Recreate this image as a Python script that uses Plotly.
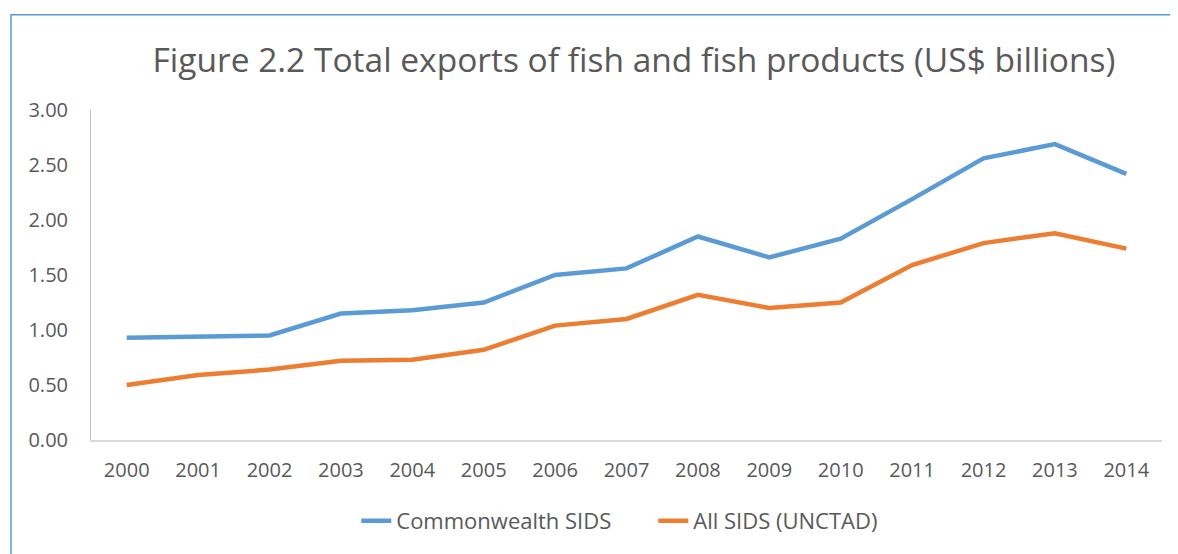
import plotly.graph_objects as go

years = ["2000", "2001", "2002", "2003", "2004", "2005", "2006", "2007",
         "2008", "2009", "2010", "2011", "2012", "2013", "2014"]
commonwealth_sids = [0.93, 0.94, 0.95, 1.15, 1.18, 1.25, 1.50, 1.56,
                     1.85, 1.66, 1.83, 2.19, 2.56, 2.69, 2.42]
all_sids_unctad = [0.50, 0.59, 0.64, 0.72, 0.73, 0.82, 1.04, 1.10,
                   1.32, 1.20, 1.25, 1.59, 1.79, 1.88, 1.74]

FONT = "'Open Sans', sans-serif"
GREY = "#595959"

fig = go.Figure()
fig.add_trace(go.Scatter(x=years, y=commonwealth_sids, mode="lines",
                         name="Commonwealth SIDS",
                         line=dict(color="#5B9BD5", width=4.5)))
fig.add_trace(go.Scatter(x=years, y=all_sids_unctad, mode="lines",
                         name="All SIDS (UNCTAD)",
                         line=dict(color="#ED7D31", width=4.5)))

fig.update_layout(
    width=1170, height=546,
    margin=dict(l=83, r=16, t=102, b=112),
    paper_bgcolor="white", plot_bgcolor="white",
    font=dict(family=FONT, color=GREY, size=20),
    title=dict(text="Figure 2.2 Total exports of fish and fish products (US$ billions)",
               x=0.535, xanchor="center", y=0.905, yanchor="middle",
               font=dict(family=FONT, size=33.5, color=GREY)),
    showlegend=True,
    legend=dict(orientation="h", x=0.525, xanchor="center", y=-0.245, yanchor="middle",
                font=dict(size=22, color=GREY), traceorder="normal",
                entrywidth=252, entrywidthmode="pixels"),
    xaxis=dict(showgrid=False, showline=True, linecolor="#d9d9d9", linewidth=1.5,
               ticks="", tickfont=dict(size=20, color=GREY), ticklabelstandoff=11,
               range=[-0.5, 14.5]),
    yaxis=dict(range=[0, 3.0], dtick=0.5, tickformat=".2f", showgrid=False,
               showline=True, linecolor="#bfbfbf", linewidth=1, zeroline=False,
               ticks="", tickfont=dict(size=20, color=GREY), ticklabelstandoff=18),
    shapes=[dict(type="rect", xref="paper", yref="paper",
                 x0=-0.0747, x1=1.2, y0=-1.0, y1=1.289,
                 line=dict(color="#5B9BD5", width=1.5), fillcolor="rgba(0,0,0,0)",
                 layer="below")],
)

fig.write_html("out.html")
